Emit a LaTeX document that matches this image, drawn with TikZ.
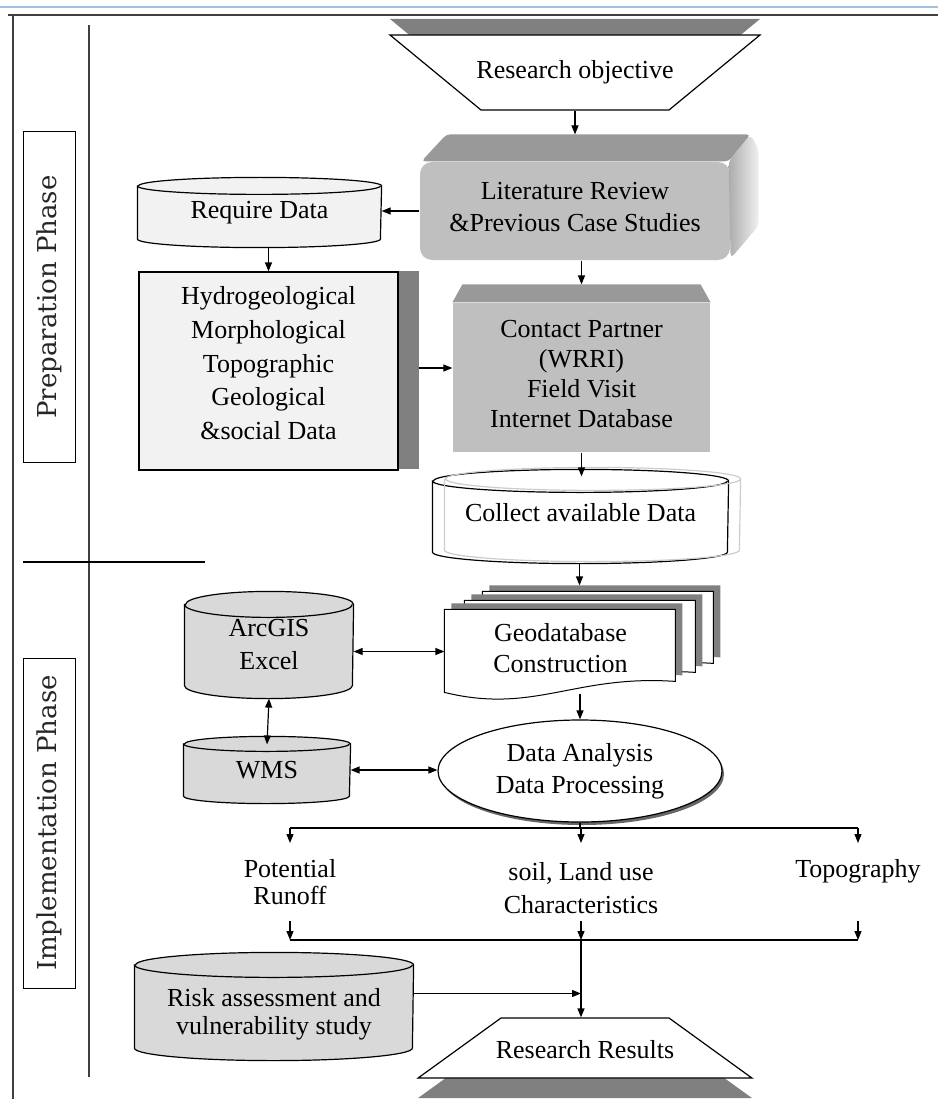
\documentclass[tikz,border=0pt]{standalone}
\usepackage{fontspec}
\setmainfont{Liberation Serif}
\newfontfamily\phasefont{DejaVu Serif}
\usepackage{tikz}
\usetikzlibrary{shapes.geometric, arrows.meta, calc, shadows, backgrounds}

\definecolor{topblue}{RGB}{160,192,226}
\definecolor{framegray}{RGB}{64,64,64}

\begin{document}
\begin{tikzpicture}[
    x=1pt, y=-1pt,
    font=\fontsize{26}{30}\selectfont,
    >={Triangle[length=9pt,width=7pt]},
    line width=1.2pt,
    % Styles
    phasebox/.style={rectangle, draw, line width=1pt, text=black!85, font=\phasefont\fontsize{26}{30}\selectfont, rotate=90, minimum width=330pt, minimum height=52pt, inner sep=0pt},
    terminal/.style={trapezium, draw, fill=white, inner sep=0pt},
    datacyl/.style={rectangle, inner sep=0pt, align=center},
    cylline/.style={draw, line width=1.2pt},
    graybox/.style={rectangle, fill=gray!50, inner sep=0pt, align=center},
    lightbox/.style={rectangle, draw, fill=gray!10, inner sep=0pt, align=center},
    docpage/.style={draw, fill=white, line width=1pt, general shadow={shadow xshift=7pt, shadow yshift=6pt, fill=black!50}},
    branchlabel/.style={align=center, anchor=north, minimum height=77pt, inner sep=0pt}
]
\useasboundingbox (0,0) rectangle (938,1099);

% --- Frame and phase lanes ---
\draw[topblue, line width=2pt] (0,7) -- (938,7);
\draw[framegray, line width=2pt] (8,15) -- (938,15);
\draw[framegray, line width=2pt] (13,15) -- (13,1099);
\draw[framegray, line width=1.5pt] (89,25) -- (89,1077);
\draw (23,562) -- (205,562);

\node[phasebox] (prep) at (49,297) {Preparation Phase};
\node[phasebox] (impl) at (49.5,823) {Implementation Phase};

% --- Preparation Phase ---
\node[terminal, trapezium left angle=39.5, trapezium right angle=39.5, shape border rotate=180,
      general shadow={shadow yshift=16pt, fill=black!50}]
      (objective) at (575,72.5) {\makebox[188pt]{\rule[-31.4pt]{0pt}{75pt}Research objective}};

\node[graybox, rounded corners=12pt, minimum width=310pt, minimum height=98pt, font=\fontsize{26}{32}\selectfont]
      (lit) at (575,211) {Literature Review\\\&Previous Case Studies\\[-24pt]\mbox{}};
\fill[gray!80, rounded corners=4pt] ($(lit.north west)+(2,0)$) -- ($(lit.north west)+(27,-27)$)
      -- ($(lit.north east)+(20,-27)$) -- ($(lit.north east)+(-2,0)$) -- cycle;
\shade[left color=gray!65, right color=gray!12, rounded corners=5pt] ($(lit.north east)+(-2,0)$)
      -- ($(lit.north east)+(20,-27)$) -- ($(lit.north east)+(28,-12)$)
      -- ($(lit.south east)+(28,-35)$) -- ($(lit.south east)+(0,-2)$) -- cycle;
\coordinate (lit top) at ($(lit.north)+(0,-27)$);

\node[datacyl, minimum width=243pt, minimum height=69pt] (reqdata) at (259.5,212.5) {Require Data};

\node[lightbox, minimum width=259pt, minimum height=198pt, font=\fontsize{26}{33.75}\selectfont]
      (hydro) at (268.5,371) {Hydrogeological\\Morphological\\Topographic\\Geological\\\&social Data\\[-17.75pt]\mbox{}};
\fill[black!50] (hydro.north east) rectangle ($(hydro.south east)+(20,-2)$);
\coordinate (hydro shade) at ($(hydro.east)+(20,-3)$);

\node[graybox, minimum width=257pt, minimum height=149pt]
      (contact) at (581.5,377.5) {Contact Partner\\(WRRI)\\Field Visit\\Internet Database\\[-22pt]\mbox{}};
\fill[gray!80] (contact.north west) -- ($(contact.north west)+(10,-18)$)
      -- ($(contact.north east)+(-10,-18)$) -- (contact.north east) -- cycle;
\coordinate (contact top) at ($(contact.north)+(0,-18)$);

\node[datacyl, minimum width=295pt, minimum height=93pt] (collect) at (580.5,516.5) {Collect available Data\\[-21pt]\mbox{}};

% --- Implementation Phase ---
\node[rectangle, minimum width=231pt, minimum height=83pt, inner sep=0pt, align=center, font=\fontsize{26}{31}\selectfont]
      (geo) at (560.5,651.5) {Geodatabase\\Construction\\[-23pt]\mbox{}};
\coordinate (geo top) at ($(geo.north)+(19,-24)$);

\node[datacyl, minimum width=168pt, minimum height=106pt, font=\fontsize{26}{33}\selectfont]
      (arcgis) at (269,645) {ArcGIS\\Excel};
\node[datacyl, minimum width=166pt, minimum height=66pt] (wms) at (267,770) {WMS};

\node[ellipse, draw, fill=white, minimum width=284pt, minimum height=102pt, inner sep=0pt, align=center,
      font=\fontsize{26}{32}\selectfont, general shadow={shadow xshift=2pt, shadow yshift=-3pt, fill=black!60}]
      (ana) at (580,771) {Data Analysis\\Data Processing};

\node[branchlabel, font=\fontsize{26}{27}\selectfont] (runoff) at (290,843) {Potential\\Runoff};
\node[branchlabel, font=\fontsize{26}{33}\selectfont] (soil) at (581,843) {\mbox{}\\[-3.2pt]soil, Land use\\Characteristics};
\node[branchlabel, font=\fontsize{26}{27}\selectfont] (topo) at (858,843) {Topography\\\mbox{}};

\node[datacyl, minimum width=278pt, minimum height=107pt, font=\fontsize{26}{28}\selectfont]
      (risk) at (274,1006.5) {\mbox{}\\[4.8pt]Risk assessment and\\vulnerability study};

\node[terminal, trapezium left angle=35.9, trapezium right angle=35.9,
      general shadow={shadow yshift=-20pt, fill=black!50}]
      (results) at (585,1048) {\makebox[168pt]{\rule[-19.4pt]{0pt}{60pt}Research Results}};

% Cylinder outlines behind the data nodes
\begin{scope}[on background layer]
    \foreach \n/\rx/\ry/\col in {reqdata/121.5/8.5/gray!10, collect/147.5/11.5/white, arcgis/84/13/gray!30,
                                 wms/83/7.5/gray!30, risk/139/12.5/gray!30} {
        \filldraw[cylline, fill=\col] ([yshift=-\ry pt]\n.north west) -- ([yshift=\ry pt]\n.south west)
            arc[start angle=180, end angle=360, x radius=\rx pt, y radius=\ry pt]
            -- ([yshift=-\ry pt]\n.north east)
            arc[start angle=0, end angle=180, x radius=\rx pt, y radius=\ry pt] -- cycle;
        \draw[cylline] ([yshift=-\ry pt]\n.north west) arc[start angle=180, end angle=360, x radius=\rx pt, y radius=\ry pt];
    }
    % offset grey copy of the collect cylinder
    \draw[cylline, draw=gray!40] ($(collect.north west)+(12,9.5)$) -- ($(collect.south west)+(12,-13.5)$)
        arc[start angle=180, end angle=360, x radius=147.5pt, y radius=11.5pt]
        -- ($(collect.north east)+(12,9.5)$)
        arc[start angle=0, end angle=360, x radius=147.5pt, y radius=11.5pt];
    % stacked pages
    \foreach \dx/\dy in {38/-18, 20/-9, 0/0} {
        \draw[docpage, shift={($(geo.north west)+(\dx,\dy)$)}] (0,0) -- (231,0) -- (231,72)
            .. controls (130,65) and (90,105) .. (0,83) -- cycle;
    }
\end{scope}

\coordinate (split) at (580,828);
\coordinate (join) at (581,940);

% --- Connections ---
\draw[->] (objective.south) -- (objective.south |- lit top);
\draw[->] (lit.west) -- (lit.west -| reqdata.east);
\draw[->] (hydro.north |- reqdata.south) -- (hydro.north);
\draw[->] (contact top |- lit.south) -- (contact top);
\draw[->] (hydro shade) -- (hydro shade -| contact.west);
\draw[->] (contact.south) -- ($(contact.south |- collect.north)+(0,7)$);
\draw[->] (geo top |- collect.south) -- (geo top);
\draw[<->] (geo.west -| arcgis.east) -- (geo.west);
\draw[<->] (arcgis.south) -- ($(wms.north)+(0,8)$);
\draw[<->] (wms.east) -- (wms.east -| ana.west);
\draw[->] (ana.north |- geo.south) -- (ana.north);

\draw (ana.south) -- (split);
\draw (split -| runoff.north) -- (split -| topo.north);
\foreach \n in {runoff, soil, topo}
    \draw[->] (split -| \n.north) -- (\n.north);
\draw (runoff.south |- join) -- (topo.south |- join);
\foreach \n in {runoff, soil, topo}
    \draw[->] (\n.south) -- (\n.south |- join);
\draw[->] (join) -- (join |- results.north);
\draw[->] ([yshift=13pt]risk.east) -- ([yshift=13pt]risk.east -| join);

\end{tikzpicture}
\end{document}
